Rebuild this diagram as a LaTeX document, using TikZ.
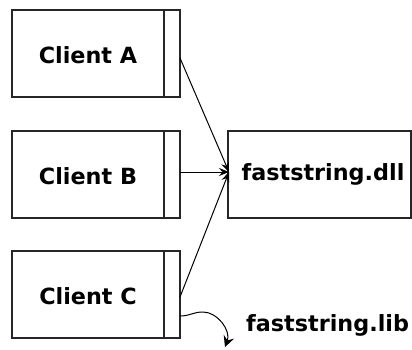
\documentclass[tikz,border=0pt]{standalone}
\usepackage{fontspec}
\setmainfont{DejaVu Sans}
\usetikzlibrary{arrows.meta}
\begin{document}
\begin{tikzpicture}[x=1pt,y=-1pt,
  lbl/.style={font=\fontsize{22.3}{26}\selectfont\bfseries, text=black},
  box/.style={draw=black!85, line width=1.2pt, rectangle, inner sep=0pt},
  divider/.style={draw=black!85, line width=2pt},
  conn/.style={draw=black, line width=1pt, -{Stealth[length=10pt,width=8pt,inset=3.5pt]}},
  libarrow/.style={draw=black, line width=1pt, -{Stealth[length=11pt,width=11pt,inset=4pt]}}
]
\useasboundingbox (0,0) rectangle (412,349);
% client boxes
\foreach \n/\t/\y in {A/Client A/53.5, B/Client B/174.5, C/Client C/294.5}{
  \node[box, minimum width=168pt, minimum height=87pt] (client\n) at (96,\y) {};
  \node[lbl] (text\n) at (88,\y+1.5) {\t};
  \coordinate (divtop\n) at (164,\y-43.5);
  \coordinate (divbot\n) at (164,\y+43.5);
  \draw[divider] (divtop\n) -- (divbot\n);
}
% dll box
\node[box, minimum width=183pt, minimum height=87pt] (dll) at (319.5,174.5) {};
\node[lbl] (dlltext) at (323,174.5) {faststring.dll};
\coordinate (hub) at (229,172);
\coordinate (outA) at (180,58);
\coordinate (outB) at (180,172);
\coordinate (outC) at (180,297);
\draw[conn] (outA) -- (hub);
\draw[conn] (outB) -- (hub);
\draw[conn] (outC) -- (hub);
% lib
\node[lbl, anchor=base west, inner sep=0pt] (lib) at (246,331) {faststring.lib};
\coordinate (libstart) at (180,316);
\coordinate (libpeak) at (203,312);
\coordinate (libend) at (225,347);
\draw[libarrow] (libstart) .. controls (190,316) and (193,312) .. (libpeak)
  .. controls (218,312) and (231,331) .. (libend);
\end{tikzpicture}
\end{document}
